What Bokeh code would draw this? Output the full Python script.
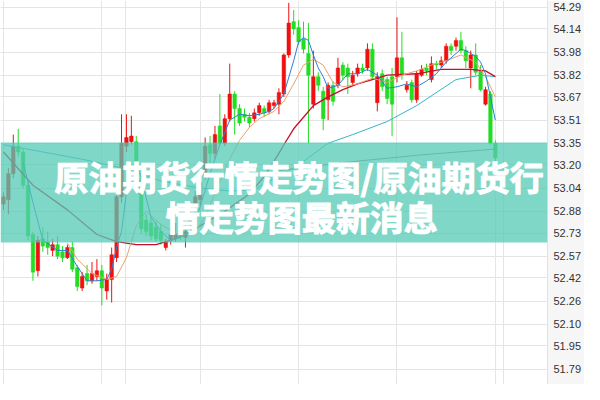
from bokeh.plotting import figure
from bokeh.models import (Range1d, FixedTicker, PrintfTickFormatter, BoxAnnotation,
                          Label, ColumnDataSource, Grid)
from bokeh.embed import file_html
from bokeh.resources import INLINE

# ---- candle data (one per bar, left to right) ----
opens = [52.93, 52.96, 53.14, 53.33, 53.29, 53.06, 52.72, 52.47, 52.69, 52.67,
         52.61, 52.65, 52.60, 52.56, 52.63, 52.49, 52.35, 52.45, 52.40, 52.43,
         52.47, 52.33, 52.41, 52.56, 52.98, 53.33, 53.36, 53.36, 53.10, 52.82,
         52.80, 52.77, 52.74, 52.63, 52.68, 52.69, 52.74, 52.70, 52.76, 52.88,
         52.96, 53.13, 53.34, 53.28, 53.47, 53.35, 53.52, 53.69, 53.59, 53.55,
         53.53, 53.52, 53.56, 53.59, 53.57, 53.61, 53.62, 53.69, 53.96, 54.19,
         54.15, 54.07, 53.97, 53.62, 53.81, 53.71, 53.65, 53.75, 53.75, 53.89,
         53.87, 53.77, 53.83, 53.87, 53.87, 54.00, 53.63, 53.83, 53.79, 53.81,
         53.81, 53.94, 53.72, 53.77, 53.65, 53.82, 53.87, 53.79, 53.90, 53.89,
         53.92, 54.02, 54.02, 54.06, 53.99, 53.87, 53.96, 53.85, 53.62, 53.69,
         53.35]
closes = [52.98, 53.14, 53.33, 53.29, 53.06, 52.71, 52.46, 52.68, 52.64, 52.63,
          52.65, 52.57, 52.56, 52.63, 52.48, 52.36, 52.43, 52.40, 52.45, 52.47,
          52.35, 52.41, 52.58, 52.98, 53.35, 53.39, 53.40, 53.10, 52.76, 52.74,
          52.71, 52.69, 52.68, 52.67, 52.72, 52.72, 52.71, 52.74, 52.86, 52.98,
          53.08, 53.33, 53.28, 53.41, 53.35, 53.52, 53.69, 53.59, 53.49, 53.53,
          53.49, 53.56, 53.61, 53.56, 53.63, 53.63, 53.70, 53.96, 54.18, 54.14,
          54.05, 54.00, 53.82, 53.81, 53.75, 53.52, 53.75, 53.64, 53.87, 53.82,
          53.81, 53.82, 53.87, 53.85, 54.00, 53.81, 53.81, 53.74, 53.66, 53.62,
          53.94, 53.82, 53.75, 53.65, 53.83, 53.86, 53.85, 53.90, 53.89, 53.92,
          54.02, 53.99, 54.06, 53.99, 53.92, 53.96, 53.84, 53.72, 53.72, 53.35,
          53.25]
highs = [53.01, 53.18, 53.41, 53.45, 53.31, 53.09, 52.74, 52.71, 52.77, 52.74,
         52.69, 52.71, 52.64, 52.65, 52.67, 52.51, 52.46, 52.51, 52.53, 52.55,
         52.51, 52.45, 52.63, 53.02, 53.55, 53.55, 53.54, 53.40, 53.12, 52.86,
         52.84, 52.81, 52.79, 52.69, 52.76, 52.80, 52.79, 52.81, 52.91, 53.02,
         53.11, 53.39, 53.40, 53.47, 53.69, 53.55, 53.90, 53.71, 53.62, 53.59,
         53.56, 53.59, 53.63, 53.61, 53.65, 53.65, 53.73, 53.97, 54.32, 54.27,
         54.20, 54.19, 54.18, 53.99, 53.84, 53.74, 53.77, 53.78, 53.94, 53.91,
         53.90, 53.85, 53.90, 53.90, 54.04, 54.04, 53.84, 53.86, 53.81, 53.87,
         54.22, 54.12, 53.78, 53.79, 53.85, 53.89, 53.90, 53.95, 53.92, 53.95,
         54.04, 54.04, 54.08, 54.12, 54.02, 53.99, 54.04, 53.89, 53.74, 53.71,
         53.37]
lows = [52.89, 52.86, 53.11, 53.26, 53.04, 52.68, 52.40, 52.43, 52.60, 52.58,
        52.57, 52.55, 52.53, 52.55, 52.46, 52.33, 52.33, 52.37, 52.38, 52.40,
        52.23, 52.27, 52.25, 52.53, 52.94, 53.29, 53.34, 53.08, 52.73, 52.71,
        52.68, 52.67, 52.65, 52.61, 52.65, 52.67, 52.68, 52.63, 52.72, 52.84,
        52.92, 53.10, 53.21, 53.24, 53.33, 53.33, 53.50, 53.41, 53.47, 53.50,
        53.46, 53.50, 53.54, 53.53, 53.55, 53.59, 53.55, 53.67, 53.94, 54.10,
        54.03, 53.97, 53.35, 53.59, 53.71, 53.44, 53.51, 53.61, 53.73, 53.79,
        53.69, 53.75, 53.81, 53.83, 53.85, 53.79, 53.57, 53.71, 53.62, 53.40,
        53.77, 53.79, 53.70, 53.63, 53.63, 53.81, 53.82, 53.77, 53.86, 53.87,
        53.90, 53.96, 53.99, 53.97, 53.87, 53.73, 53.82, 53.71, 53.61, 53.34,
        53.20]

# ---- moving-average lines (bar index, price) ----
ma5_x = [4, 6, 8, 11, 13, 15, 17, 19, 21, 22, 23, 24, 25, 26, 27, 28, 30, 32, 34, 36,
         38, 40, 42, 44, 46, 48, 50, 52, 54, 55, 57, 59, 60, 61, 62, 63, 64, 65, 66, 68,
         70, 72, 74, 76, 78, 80, 82, 84, 86, 88, 90, 92, 93, 94, 96, 97, 98, 99, 100]
ma5_y = [53.22, 52.94, 52.68, 52.61, 52.61, 52.50, 52.40, 52.40, 52.41, 52.48,
         52.63, 52.74, 53.01, 53.18, 53.22, 53.11, 52.84, 52.74, 52.68, 52.70,
         52.74, 52.91, 53.14, 53.34, 53.51, 53.55, 53.54, 53.55, 53.57, 53.59,
         53.69, 53.92, 54.05, 54.08, 54.06, 53.96, 53.87, 53.81, 53.73, 53.75,
         53.83, 53.83, 53.86, 53.82, 53.73, 53.74, 53.76, 53.74, 53.78, 53.83,
         53.91, 53.97, 54.00, 53.99, 53.95, 53.91, 53.83, 53.67, 53.51]
ma10_x = [13, 15, 18, 21, 23, 25, 27, 29, 32, 36, 39, 41, 43, 46, 48, 50, 52, 55,
          57, 59, 61, 63, 65, 67, 69, 72, 75, 78, 81, 84, 87, 90, 93, 96, 98, 100]
ma10_y = [52.66, 52.55, 52.45, 52.41, 52.43, 52.56, 52.78, 52.88, 52.79, 52.71,
          52.74, 52.84, 53.01, 53.24, 53.37, 53.46, 53.52, 53.57, 53.64, 53.76,
          53.89, 53.93, 53.89, 53.77, 53.74, 53.76, 53.80, 53.77, 53.82, 53.85,
          53.89, 53.92, 53.96, 53.91, 53.81, 53.67]
ma20_x = [0, 6, 13, 19, 23, 27, 31, 35, 39, 45, 50, 53, 56, 57, 59, 61, 63, 66, 69,
          72, 75, 78, 84, 89, 95, 98, 100]
ma20_y = [53.29, 53.06, 52.89, 52.72, 52.67, 52.65, 52.65, 52.69, 52.76, 52.88,
          53.00, 53.12, 53.28, 53.34, 53.45, 53.53, 53.61, 53.67, 53.72, 53.76,
          53.79, 53.82, 53.83, 53.86, 53.86, 53.85, 53.81]
ma40_x = [0, 8, 16, 24, 32, 40, 46, 51, 60, 66, 71, 78, 84, 92, 97, 100]
ma40_y = [53.34, 53.29, 53.24, 53.18, 53.09, 53.04, 53.02, 53.03, 53.20, 53.35,
          53.41, 53.50, 53.61, 53.79, 53.82, 53.81]
ma60_x = [56, 70, 85, 100]
ma60_y = [53.16, 53.22, 53.27, 53.31]

price_ticks = [54.29, 54.14, 53.98, 53.82, 53.67, 53.51, 53.35, 53.20, 53.04,
               52.88, 52.73, 52.57, 52.42, 52.26, 52.10, 51.95, 51.79, 51.63]
time_grid = [24.8, 101.6]

title_line1 = "原油期货行情走势图/原油期货行"
title_line2 = "情走势图最新消息"

RED = "#f01010"
GREEN = "#22dd22"

idx = list(range(len(opens)))
colors = [RED if c >= o else GREEN for o, c in zip(opens, closes)]
src = ColumnDataSource(dict(
    x=idx,
    top=[max(o, c) for o, c in zip(opens, closes)],
    bottom=[min(o, c) for o, c in zip(opens, closes)],
    high=highs, low=lows, color=colors))

p = figure(width=584, height=384,
           x_range=Range1d(-0.6, 110.6), y_range=Range1d(51.684, 54.336),
           output_backend="svg", toolbar_location=None,
           x_axis_location=None, y_axis_location="right",
           min_border_left=0, min_border_top=0, min_border_bottom=0, min_border_right=0)
p.outline_line_color = None
p.background_fill_color = "white"
p.border_fill_color = "#f6f6f6"

ax = p.yaxis[0]
ax.ticker = FixedTicker(ticks=price_ticks)
ax.formatter = PrintfTickFormatter(format="%.2f")
ax.major_tick_line_color = None
ax.minor_tick_line_color = None
ax.major_tick_out = 0
ax.major_tick_in = 0
ax.minor_tick_out = 0
ax.axis_label = None
ax.axis_line_color = "#e2e2e2"
ax.major_label_text_font = "Liberation Sans"
ax.major_label_text_font_size = "11px"
ax.major_label_text_color = "#333333"
ax.major_label_standoff = 6
ax.major_label_text_baseline = "bottom"

p.ygrid.grid_line_color = "#e4e4e4"
p.ygrid.grid_line_width = 1
p.add_layout(Grid(dimension=0, ticker=FixedTicker(ticks=time_grid),
                  grid_line_color="#e4e4e4"))

p.segment(x0="x", x1="x", y0="low", y1="high", color="color", line_width=1, source=src)
p.vbar(x="x", width=0.72, top="top", bottom="bottom", fill_color="color",
       line_color="color", line_width=0.5, source=src)

p.line(ma60_x, ma60_y, line_color="#8a8a8a", line_width=1)
p.line(ma40_x, ma40_y, line_color="#35b5c8", line_width=1)
p.line(ma20_x, ma20_y, line_color="#c4102a", line_width=1.3)
p.line(ma10_x, ma10_y, line_color="#eaa070", line_width=1)
p.line(ma5_x, ma5_y, line_color="#2a7fd8", line_width=1)

p.add_layout(BoxAnnotation(bottom=52.665, top=53.355, fill_color="#54c9b5",
                           fill_alpha=0.75, line_color=None, level="overlay"))

for txt, tx, ty in [(title_line1, 10.4, 53.123), (title_line2, 33.0, 52.845)]:
    p.add_layout(Label(x=tx, y=ty, text=txt, text_color="white",
                       text_font="Noto Sans CJK SC", text_font_style="bold",
                       text_font_size="34px", text_baseline="middle",
                       text_outline_color="white",
                       text_align="left", level="overlay"))

open("out.html", "w").write(file_html(p, INLINE))
